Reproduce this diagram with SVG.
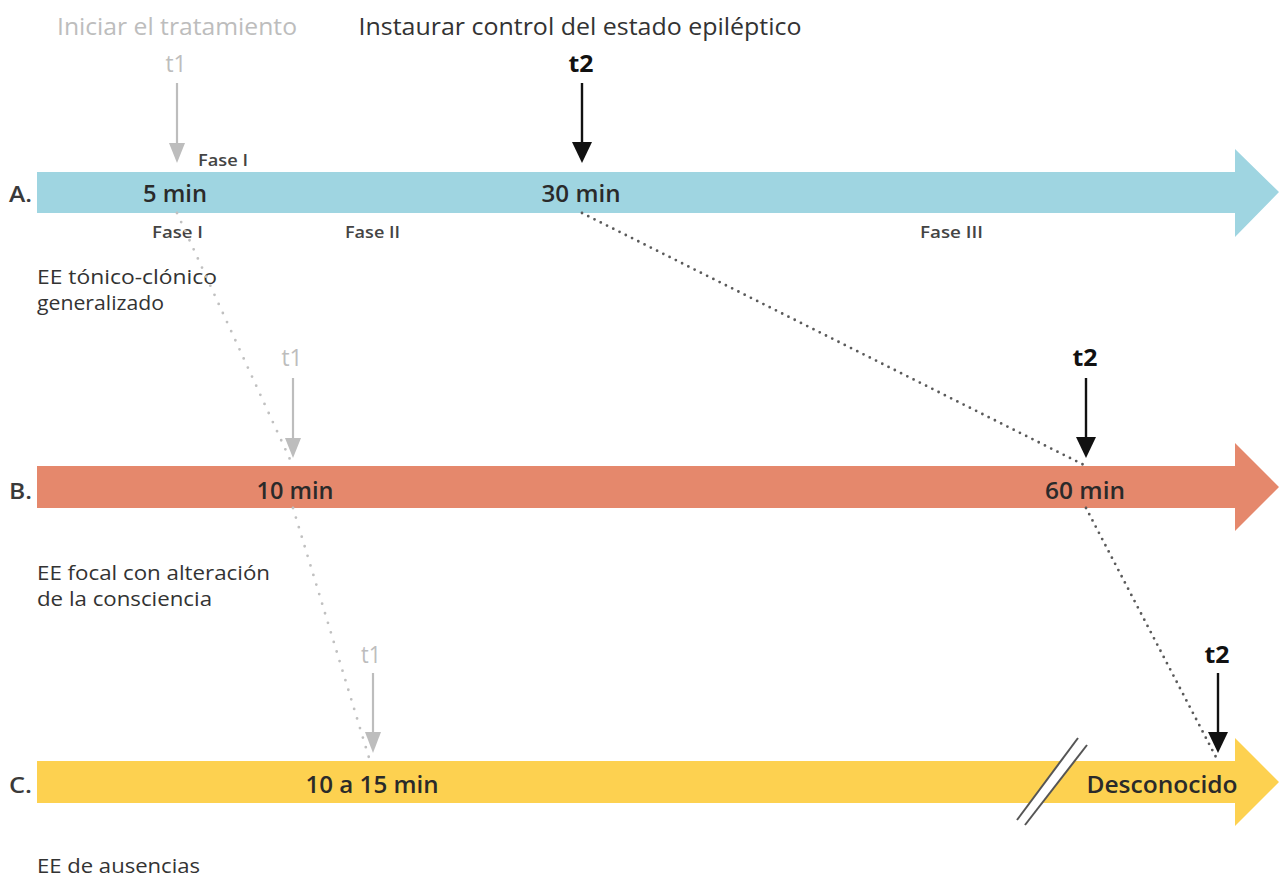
<svg xmlns="http://www.w3.org/2000/svg" width="1281" height="879" viewBox="0 0 1281 879">
<style>
text{font-family:"Open Sans","Liberation Sans",sans-serif;fill:#333}
.hdr{font-size:23px}
.gray{fill:#bdbdbd}
.tb{font-size:23px;font-weight:700;fill:#111}
.tg{font-size:23px;fill:#bdbdbd}
.bar{font-size:23px;font-weight:600;fill:#2a2a2a}
.lbl{font-size:21px;font-weight:600;fill:#3a3a3a}
.fase{font-size:16px;font-weight:600;fill:#444}
.desc{font-size:20px;fill:#333}
.dotg{stroke:#c0c0c0;stroke-width:2.8;stroke-linecap:round;stroke-dasharray:0 10;fill:none}
.dotd{stroke:#5a5a5a;stroke-width:2.8;stroke-linecap:round;stroke-dasharray:0 7;fill:none}
.ag{stroke:#bdbdbd;stroke-width:2.2}
.ab{stroke:#111;stroke-width:2.4}
</style>
<rect width="1281" height="879" fill="#fff"/>

<g id="headers">
<text class="hdr gray" x="177" y="35" text-anchor="middle" textLength="240" lengthAdjust="spacingAndGlyphs">Iniciar el tratamiento</text>
<text class="hdr" x="580" y="35" text-anchor="middle" textLength="443" lengthAdjust="spacingAndGlyphs">Instaurar control del estado epiléptico</text>
</g>

<g id="timeline-A">
<polygon points="37,172 1235,172 1235,149 1279,192 1235,237 1235,213 37,213" fill="#9fd5e1"/>
<text class="lbl" x="9" y="202" textLength="23" lengthAdjust="spacingAndGlyphs">A.</text>
<text class="bar" x="175" y="202" text-anchor="middle" textLength="64" lengthAdjust="spacingAndGlyphs">5 min</text>
<text class="bar" x="581" y="202" text-anchor="middle" textLength="79" lengthAdjust="spacingAndGlyphs">30 min</text>
<text class="fase" x="198" y="166" textLength="50" lengthAdjust="spacingAndGlyphs">Fase I</text>
<text class="fase" x="152" y="238" textLength="51" lengthAdjust="spacingAndGlyphs">Fase I</text>
<text class="fase" x="345" y="238" textLength="55" lengthAdjust="spacingAndGlyphs">Fase II</text>
<text class="fase" x="920" y="238" textLength="63" lengthAdjust="spacingAndGlyphs">Fase III</text>
<text class="desc" x="37" y="284" textLength="180" lengthAdjust="spacingAndGlyphs">EE tónico-clónico</text>
<text class="desc" x="37" y="310" textLength="127" lengthAdjust="spacingAndGlyphs">generalizado</text>
</g>

<g id="timeline-B">
<polygon points="37,466 1235,466 1235,443 1279,487 1235,531 1235,508 37,508" fill="#e5886c"/>
<text class="lbl" x="9" y="499" textLength="23" lengthAdjust="spacingAndGlyphs">B.</text>
<text class="bar" x="295" y="499" text-anchor="middle" textLength="77" lengthAdjust="spacingAndGlyphs">10 min</text>
<text class="bar" x="1085" y="499" text-anchor="middle" textLength="80" lengthAdjust="spacingAndGlyphs">60 min</text>
<text class="desc" x="37" y="580" textLength="233" lengthAdjust="spacingAndGlyphs">EE focal con alteración</text>
<text class="desc" x="37" y="606" textLength="175" lengthAdjust="spacingAndGlyphs">de la consciencia</text>
</g>

<g id="timeline-C">
<polygon points="37,761 1235,761 1235,738 1279,782 1235,826 1235,803 37,803" fill="#fdd150"/>
<polygon points="1017,820 1078,738 1087,745 1025,825" fill="#fff"/>
<line x1="1017" y1="820" x2="1078" y2="738" stroke="#555" stroke-width="2"/>
<line x1="1025" y1="825" x2="1087" y2="745" stroke="#555" stroke-width="2"/>
<text class="lbl" x="9" y="793" textLength="23" lengthAdjust="spacingAndGlyphs">C.</text>
<text class="bar" x="372" y="793" text-anchor="middle" textLength="133" lengthAdjust="spacingAndGlyphs">10 a 15 min</text>
<text class="bar" x="1162" y="793" text-anchor="middle" textLength="151" lengthAdjust="spacingAndGlyphs">Desconocido</text>
<text class="desc" x="37" y="873" textLength="163" lengthAdjust="spacingAndGlyphs">EE de ausencias</text>
</g>

<g id="markers">
<text class="tg" x="176" y="72" text-anchor="middle" textLength="21" lengthAdjust="spacingAndGlyphs">t1</text>
<text class="tb" x="581" y="72" text-anchor="middle" textLength="25" lengthAdjust="spacingAndGlyphs">t2</text>
<text class="tg" x="292" y="366" text-anchor="middle" textLength="21" lengthAdjust="spacingAndGlyphs">t1</text>
<text class="tb" x="1085" y="366" text-anchor="middle" textLength="25" lengthAdjust="spacingAndGlyphs">t2</text>
<text class="tg" x="371" y="663" text-anchor="middle" textLength="20" lengthAdjust="spacingAndGlyphs">t1</text>
<text class="tb" x="1217" y="663" text-anchor="middle" textLength="25" lengthAdjust="spacingAndGlyphs">t2</text>
</g>

<g id="connectors">
<path class="dotg" d="M177,213 L293,466 M293,508 L370,761"/>
<path class="dotd" d="M582,213 L1086,466 M1086,508 L1218,761"/>
<line class="ag" x1="177" y1="83" x2="177" y2="146"/>
<polygon points="169,143 185,143 177,163" fill="#bdbdbd"/>
<line class="ag" x1="293" y1="378" x2="293" y2="441"/>
<polygon points="285,438 301,438 293,458" fill="#bdbdbd"/>
<line class="ag" x1="373" y1="673" x2="373" y2="735"/>
<polygon points="365,732 381,732 373,753" fill="#bdbdbd"/>
<line class="ab" x1="582" y1="83" x2="582" y2="145"/>
<polygon points="572,142 592,142 582,163" fill="#111"/>
<line class="ab" x1="1086" y1="378" x2="1086" y2="440"/>
<polygon points="1076,437 1096,437 1086,458" fill="#111"/>
<line class="ab" x1="1218" y1="673" x2="1218" y2="735"/>
<polygon points="1208,732 1228,732 1218,753" fill="#111"/>
</g>
</svg>
